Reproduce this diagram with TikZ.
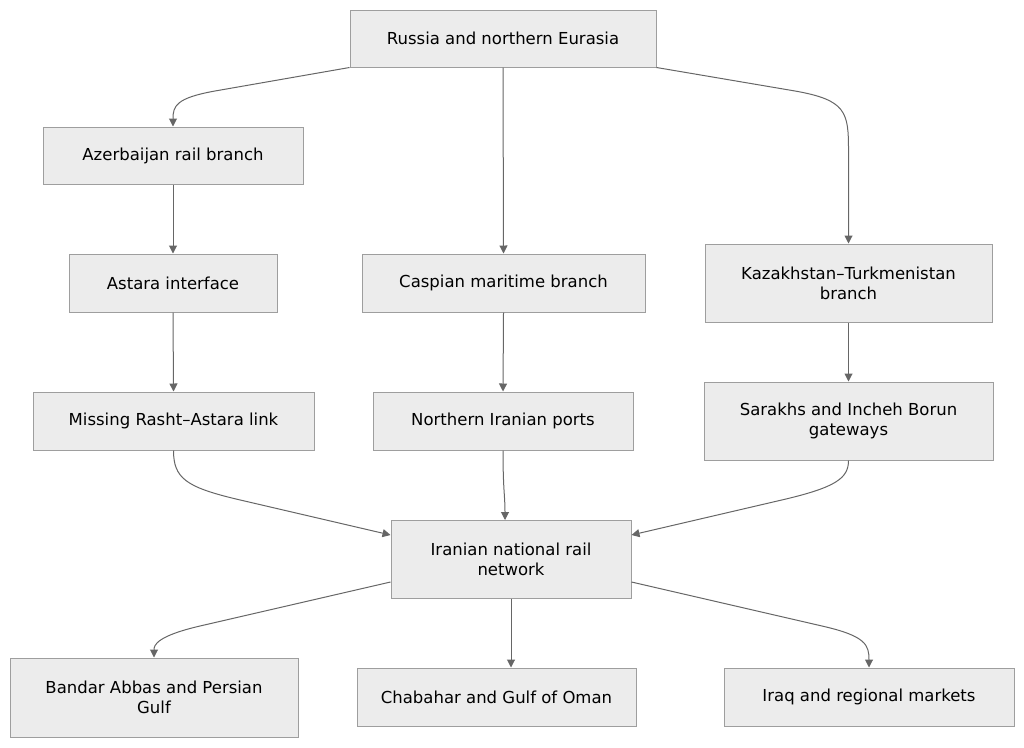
\documentclass[tikz,border=0pt]{standalone}
\usepackage{fontspec}
\setmainfont{DejaVu Sans}
\usetikzlibrary{arrows.meta}
\definecolor{boxfill}{HTML}{ECECEC}
\definecolor{boxline}{HTML}{9E9E9E}
\definecolor{edgecol}{HTML}{666666}
\begin{document}
\begin{tikzpicture}[x=1pt,y=-1pt,
  box/.style={draw=boxline,fill=boxfill,line width=1pt,inner sep=0pt,align=center,font=\fontsize{16.5}{20}\selectfont,text=black},
  edge/.style={draw=edgecol,line width=1pt,-{Triangle[length=8pt,width=8pt]}}]
\useasboundingbox (0,0) rectangle (1024,747);
\node[box,minimum width=306,minimum height=57] (ru) at (503,38.5) {Russia and northern Eurasia};
\node[box,minimum width=260,minimum height=57] (az) at (173,155.5) {Azerbaijan rail branch};
\node[box,minimum width=208,minimum height=58] (as) at (173,283) {Astara interface};
\node[box,minimum width=283,minimum height=58] (ca) at (503.5,283) {Caspian maritime branch};
\node[box,minimum width=287,minimum height=78] (kz) at (848.5,283) {Kazakhstan–Turkmenistan\\branch};
\node[box,minimum width=281,minimum height=58] (mi) at (173.5,421) {Missing Rasht–Astara link};
\node[box,minimum width=260,minimum height=58] (np) at (503,421) {Northern Iranian ports};
\node[box,minimum width=289,minimum height=78] (sa) at (848.5,421) {Sarakhs and Incheh Borun\\gateways};
\node[box,minimum width=240,minimum height=78] (ir) at (511,559) {Iranian national rail\\network};
\node[box,minimum width=288,minimum height=79] (ba) at (154,697.5) {Bandar Abbas and Persian\\Gulf};
\node[box,minimum width=279,minimum height=58] (ch) at (496.5,697) {Chabahar and Gulf of Oman};
\node[box,minimum width=290,minimum height=58] (iq) at (869,697) {Iraq and regional markets};
% edges
\draw[edge] (ru.south west) -- (215,91) .. controls (176,98) and (173,106) .. (az.north);
\draw[edge] (ru.south) -- (ca.north);
\draw[edge] (ru.south east) -- (795,91) .. controls (846,100) and (848.5,112) .. (848.5,150) -- (kz.north);
\draw[edge] (az.south) -- (as.north);
\draw[edge] (as.south) -- (mi.north);
\draw[edge] (ca.south) -- (np.north);
\draw[edge] (kz.south) -- (sa.north);
\draw[edge] (mi.south) .. controls (173.5,478) and (186,487) .. (236,499) -- (ir.west |- 0,535);
\draw[edge] (np.south) .. controls (503,490) and (505,495) .. (505,520);
\draw[edge] (sa.south) .. controls (848.5,478) and (836,487) .. (786,499) -- (ir.east |- 0,535);
\draw[edge] (ir.west |- 0,582) -- (200,626) .. controls (157,636) and (154,645) .. (ba.north);
\draw[edge] (ir.south) -- (ir.south |- ch.north);
\draw[edge] (ir.east |- 0,582) -- (822,626) .. controls (866,636) and (869,645) .. (iq.north);
\end{tikzpicture}
\end{document}
